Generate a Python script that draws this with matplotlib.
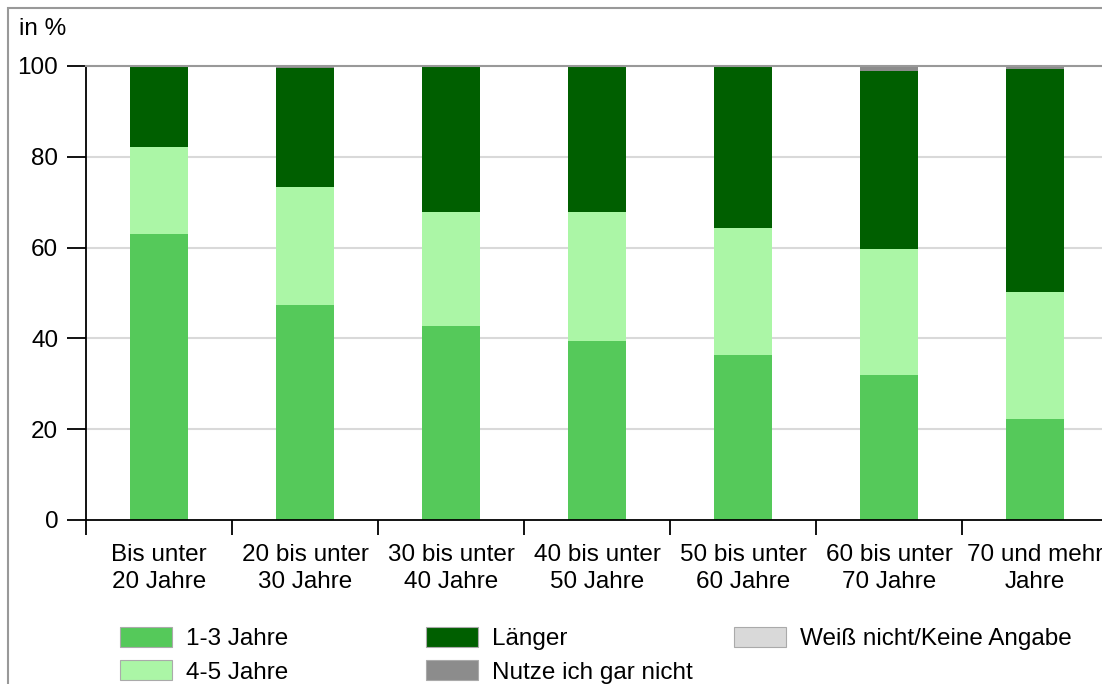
import matplotlib
matplotlib.use("Agg")
import matplotlib.pyplot as plt
import numpy as np
from matplotlib.patches import Rectangle, Patch

plt.rcParams['font.family'] = ['Liberation Sans', 'DejaVu Sans']

categories = ["Bis unter\n20 Jahre", "20 bis unter\n30 Jahre", "30 bis unter\n40 Jahre",
              "40 bis unter\n50 Jahre", "50 bis unter\n60 Jahre", "60 bis unter\n70 Jahre",
              "70 und mehr\nJahre"]
jahre_1_3 = [63.0, 47.4, 42.7, 39.4, 36.3, 31.9, 22.2]
jahre_4_5 = [19.2, 25.9, 25.1, 28.4, 28.0, 27.8, 28.0]
laenger = [17.8, 26.3, 32.2, 32.2, 35.5, 39.2, 49.1]
nutze_nicht = [0.0, 0.4, 0.0, 0.0, 0.2, 1.1, 0.7]
weiss_nicht = [0.0, 0.0, 0.0, 0.0, 0.0, 0.0, 0.0]

series = [("1-3 Jahre", jahre_1_3, "#55c95a"),
          ("4-5 Jahre", jahre_4_5, "#abf6a6"),
          ("Länger", laenger, "#005f00"),
          ("Nutze ich gar nicht", nutze_nicht, "#8c8c8c"),
          ("Weiß nicht/Keine Angabe", weiss_nicht, "#d9d9d9")]

fs = 17.5

fig = plt.figure(figsize=(11.02, 6.84), dpi=100)
ax = fig.add_axes([86/1102, 1-520/684, 1022/1102, 454/684])

x = np.arange(len(categories)) + 0.5
bottom = np.zeros(len(categories))
for name, vals, col in series:
    vals = np.array(vals)
    ax.bar(x, vals, 0.4, bottom=bottom, color=col, zorder=2)
    bottom += vals

ax.set_xlim(0, 7)
ax.set_ylim(0, 100)
ax.set_yticks([0, 20, 40, 60, 80, 100])
for y in [20, 40, 60, 80]:
    ax.axhline(y, color="#d9d9d9", lw=1.5, zorder=1)

ax.set_xticks(np.arange(0, 8))
ax.set_xticklabels([])
ax.set_xticks(x, minor=True)
ax.set_xticklabels(categories, minor=True, fontsize=fs, linespacing=1.3)
ax.tick_params(axis="x", which="minor", length=0, pad=17)
ax.tick_params(axis="x", which="major", length=11, width=1.3, direction="out")
ax.tick_params(axis="y", length=14, width=1.3, pad=6, labelsize=fs)

ax.spines["right"].set_visible(False)
ax.spines["top"].set_color("#999999")
ax.spines["top"].set_linewidth(1.5)
ax.spines["left"].set_linewidth(1.3)
ax.spines["bottom"].set_linewidth(1.3)
ax.spines["top"].set_zorder(3)

fig.text(19/1102, 1-29/684, "in %", fontsize=fs, va="center", ha="left")

# outer frame
fig.add_artist(Rectangle((8/1102, -0.1), 1.2, (684-8)/684 + 0.1, transform=fig.transFigure,
                         fill=False, edgecolor="#999999", lw=1.5))

# legend in three columns
handles = [Patch(facecolor=c, edgecolor="#aaaaaa", lw=0.8, label=n) for n, v, c in series]
cols = [(handles[0:2], 120), (handles[2:4], 426), (handles[4:5], 734)]
for hs, xpos in cols:
    fig.legend(handles=hs, loc="upper left", bbox_to_anchor=(xpos/1102, 1-627/684),
               frameon=False, fontsize=fs, handlelength=2.15, handleheight=0.87,
               handletextpad=0.58, labelspacing=0.42, borderaxespad=0, borderpad=0)

fig.savefig("out.png", dpi=100)
